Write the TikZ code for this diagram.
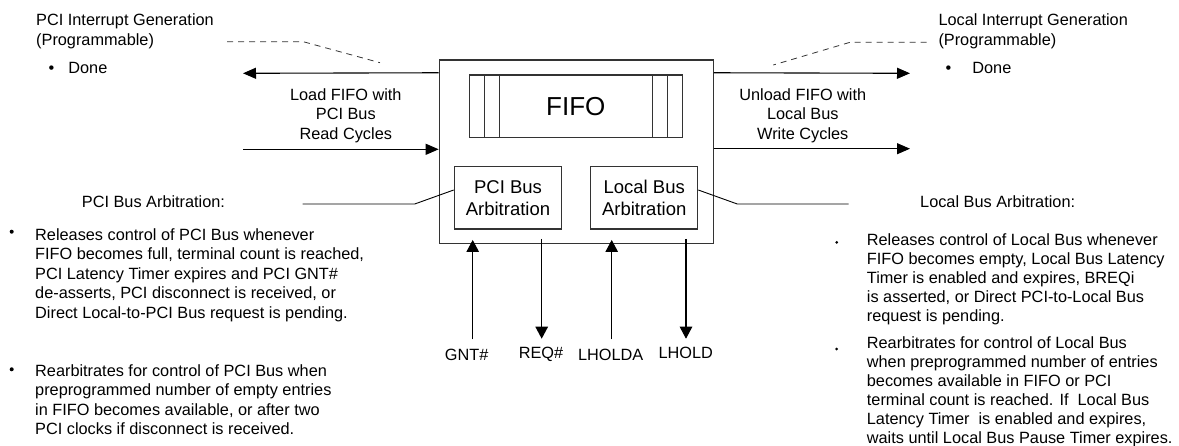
\documentclass[tikz,border=0pt]{standalone}
\usepackage{fontspec}
\setmainfont{Liberation Sans}
\usetikzlibrary{arrows.meta,positioning,calc}
\newcommand{\txtsize}{\fontsize{16.3}{19.5}\selectfont}

\begin{document}
\begin{tikzpicture}[x=1pt,y=-1pt,
  frame/.style={draw=black!80,line width=1.2pt,inner sep=0pt},
  note/.style={font=\txtsize,inner sep=0pt,align=left},
  flow/.style={-{Triangle[length=13pt,width=11pt]},line width=1.1pt},
  sig/.style={-{Triangle[length=12pt,width=12.5pt]},line width=1.1pt},
  lead/.style={draw=black!80,line width=0.8pt,dash pattern=on 6pt off 5pt},
  wire/.style={line width=0.9pt},
  dot/.style={circle,fill,inner sep=0pt,minimum size=4pt}]
\useasboundingbox (0,0) rectangle (1179,445);

% controller with FIFO and both arbiters
\node[frame,minimum width=274pt,minimum height=183.3pt] (ctrl) at (576.3,151.7) {};
\node[frame,minimum width=213pt,minimum height=62.3pt,
  font=\fontsize{26}{30}\selectfont] (fifo) at (575.8,106.2) {FIFO};
\foreach \d in {15.5,30.8}{
  \draw[black!80,line width=1.2pt] ([xshift=\d pt]fifo.north west) -- ([xshift=\d pt]fifo.south west);
  \draw[black!80,line width=1.2pt] ([xshift=-\d pt]fifo.north east) -- ([xshift=-\d pt]fifo.south east);
}
\node[frame,minimum width=107.4pt,minimum height=62.3pt,align=center,
  font=\fontsize{18.5}{22}\selectfont] (pciarb) at (508,197.8) {PCI Bus\\Arbitration};
\node[frame,minimum width=107pt,minimum height=62.3pt,align=center,
  font=\fontsize{18.5}{22}\selectfont] (locarb) at (644.2,197.8) {Local Bus\\Arbitration};

% data flow in and out
\coordinate (pciend) at (243,73.3);
\coordinate (pcibeg) at (243,149.3);
\coordinate (locend) at (910,73.3);
\coordinate (locwrend) at (910,148.7);
\draw[flow] ([yshift=-13.3pt]ctrl.north west) -- (pciend);
\draw[flow] (pcibeg) -- ([yshift=2.4pt]ctrl.west);
\draw[flow] ([yshift=-13.3pt]ctrl.north east) -- (locend);
\draw[flow] ([yshift=3pt]ctrl.east) -- (locwrend);
% (multi-line nodes: base is the last line)
\node[note,align=center,anchor=base] (pcird) at (345.8,139) {Load FIFO with\\PCI Bus\\Read Cycles};
\node[note,align=center,anchor=base] (locwr) at (802.8,139) {Unload FIFO with\\Local Bus\\Write Cycles};

% interrupt generation
\node[note,anchor=base west] (pciint) at (36,45.2) {PCI Interrupt Generation\\(Programmable)};
\node[note,anchor=base west] (pcidone) at (48.5,73.3) {\textbullet\hspace{14pt}Done};
\node[note,anchor=base west] (locint) at (938.3,45.2) {Local Interrupt Generation\\(Programmable)};
\node[note,anchor=base west] (locdone) at (945.5,73.3) {\textbullet\hspace{21pt}Done};
\coordinate (pcidash) at (227,41.7);
\coordinate (locdash) at (926.7,42.3);
\draw[lead] (pcidash) -- ++(76.3,0) -- ++(76.7,21);
\draw[lead] (locdash) -- ++(-76.7,0) -- ++(-76.7,22.7);

% PCI side arbitration
\node[note,anchor=base west] (pcititle) at (81.7,207) {PCI Bus Arbitration:};
\draw[wire] ([yshift=7.8pt]pciarb.west) -- ++(-39,14) -- ++(-112,0);
\node[dot] (pcib1) at (11.7,231.7) {};
\node[note,anchor=base west] (pcirel) at (35,318) {Releases control of PCI Bus whenever\\FIFO becomes full, terminal count is reached,\\PCI Latency Timer expires and PCI GNT\#\\de-asserts, PCI disconnect is received, or\\Direct Local-to-PCI Bus request is pending.};
\node[dot] (pcib2) at (11.7,369.3) {};
\node[note,anchor=base west] (pcirearb) at (35,434.5) {Rearbitrates for control of PCI Bus when\\preprogrammed number of empty entries\\in FIFO becomes available, or after two\\PCI clocks if disconnect is received.};

% Local side arbitration
\node[note,anchor=base west] (loctitle) at (920,207) {Local Bus Arbitration:};
\draw[wire] ([yshift=7.8pt]locarb.east) -- ++(39,14) -- ++(111.3,0);
\node[dot,minimum size=3pt] (locb1) at (836.7,242.3) {};
\node[note,anchor=base west,font=\fontsize{16.3}{19}\selectfont] (locrel) at (866.7,321) {Releases control of Local Bus whenever\\FIFO becomes empty, Local Bus Latency\\Timer is enabled and expires, BREQi\\is asserted, or Direct PCI-to-Local Bus\\request is pending.};
\node[dot,minimum size=3pt] (locb2) at (836.7,349) {};
\node[note,anchor=base west,font=\fontsize{16.3}{19}\selectfont] (locrearb) at (866.7,443) {Rearbitrates for control of Local Bus\\when preprogrammed number of entries\\becomes available in FIFO or PCI\\terminal count is reached. If\ \ Local Bus\\Latency Timer\ \ is enabled and expires,\\waits until Local Bus Pause Timer expires.};

% handshake signals
\node[note,anchor=base] (gnt) at (466.7,360) {GNT\#};
\node[note,anchor=base] (req) at (541,358.3) {REQ\#};
\node[note,anchor=base] (lholda) at (610.7,360) {LHOLDA};
\node[note,anchor=base] (lhold) at (685.7,358.3) {LHOLD};
\draw[sig] ($(gnt.north)+(6,-9)$) -- ($(gnt.north |- ctrl.south)+(6,-4)$);
\draw[sig] ($(req.north |- ctrl.south)+(0.7,-5)$) -- ($(req.north)+(0.7,-8)$);
\draw[sig] ($(lholda.north)+(1,-9)$) -- ($(lholda.north |- ctrl.south)+(1,-4)$);
\draw[sig] ($(lhold.north |- ctrl.south)+(0.3,-5)$) -- ($(lhold.north)+(0.3,-8)$);
\end{tikzpicture}
\end{document}
